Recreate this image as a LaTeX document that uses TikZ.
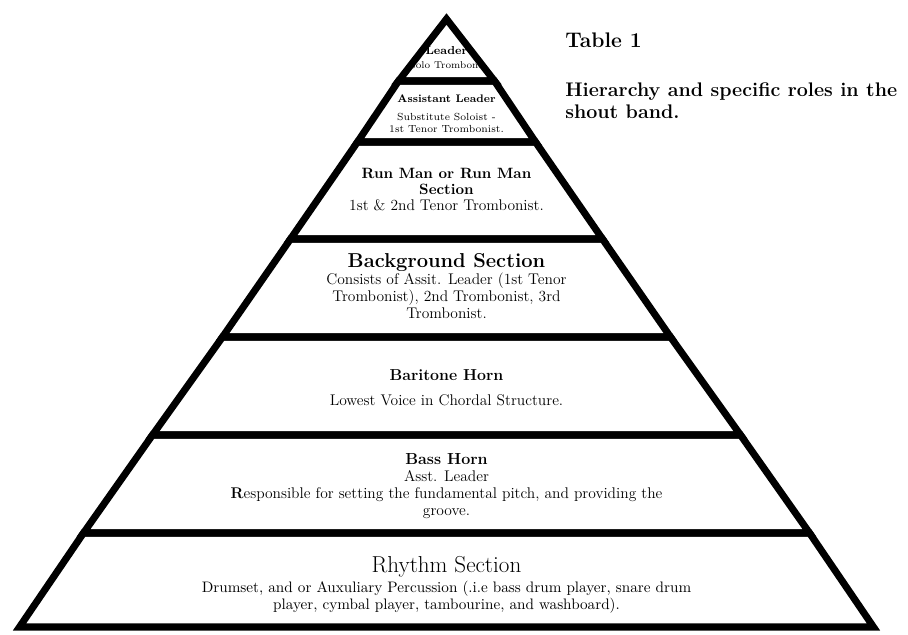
\documentclass[tikz,border=0pt]{standalone}
\usetikzlibrary{positioning}

\tikzset{
  layer/.style={draw=black, line width=5pt},
  layertext/.style={align=center, inner sep=0pt, font=\fontsize{11}{12.1}\selectfont},
  caption/.style={align=left, inner sep=0pt, font=\fontsize{14}{15.6}\selectfont\bfseries}
}

\begin{document}
\begin{tikzpicture}[x=0.025cm, y=-0.025cm]
  \useasboundingbox (0,0) rectangle (908,635);

  % texts of the layers, top to bottom
  \node[layertext, font=\fontsize{7}{9.5}\selectfont] (leader) at (446.5,57.5)
    {{\fontsize{8.2}{9}\selectfont\bfseries Leader}\\ Solo Trombone};
  \node[layertext, font=\fontsize{7.3}{8.5}\selectfont] (assistant) at (446.5,114)
    {{\fontsize{7.8}{9}\selectfont\bfseries Assistant Leader}\\[4.3pt]
     Substitute Soloist -\\ 1st Tenor Trombonist.};
  \node[layertext, font=\fontsize{11}{11.4}\selectfont] (runman) at (446.5,190)
    {{\fontsize{10.6}{12}\selectfont\bfseries Run Man or Run Man}\\
     {\fontsize{10.6}{12}\selectfont\bfseries Section}\\
     1st \& 2nd Tenor Trombonist.};
  \node[layertext, font=\fontsize{11}{12}\selectfont] (background) at (446.5,286)
    {{\fontsize{14.3}{16}\selectfont\bfseries Background Section}\\[0.5pt]
     Consists of Assit. Leader (1st Tenor\\
     Trombonist), 2nd Trombonist, 3rd\\
     Trombonist.};
  \node[layertext, font=\fontsize{11}{12}\selectfont] (baritone) at (446.5,388)
    {{\fontsize{11.3}{13}\selectfont\bfseries Baritone Horn}\\[5.6pt]
     Lowest Voice in Chordal Structure.};
  \node[layertext] (basshorn) at (446.5,486)
    {{\fontsize{11.4}{13}\selectfont\bfseries Bass Horn}\\
     Asst. Leader\\
     \textbf{R}esponsible for setting the fundamental pitch, and providing the\\
     groove.};
  \node[layertext, font=\fontsize{10.8}{12.1}\selectfont] (rhythm) at (446.5,585)
    {{\fontsize{16.4}{18}\selectfont Rhythm Section}\\[2.5pt]
     Drumset, and or Auxuliary Percussion (.i.e bass drum player, snare drum\\
     player, cymbal player, tambourine, and washboard).};

  % pyramid, one trapezoid per layer (level/half width)
  \draw[layer] (446.5,19) -- (494.5,81) -- (398.5,81) -- cycle;
  \foreach \ya/\wa/\yb/\wb in {81/48/142/89, 142/89/239/156, 239/156/337/224,
                               337/224/435/294, 435/294/533/363, 533/363/627/427}{
    \draw[layer] ({446.5-\wa},\ya) -- ({446.5+\wa},\ya) -- ({446.5+\wb},\yb) -- ({446.5-\wb},\yb) -- cycle;
  }

  % caption on the right
  \node[caption, anchor=west, font=\fontsize{15}{16}\selectfont\bfseries] (tablenum) at (565,40) {Table 1};
  \node[caption, below right=25pt and 0pt of tablenum.south west] (tabletitle)
    {Hierarchy and specific roles in the\\ shout band.};
\end{tikzpicture}
\end{document}
